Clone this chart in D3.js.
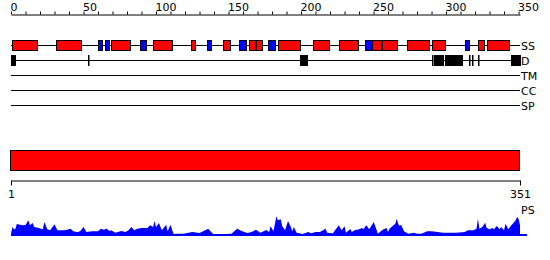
<!DOCTYPE html>
<html>
<head>
<meta charset="utf-8">
<script src="https://cdn.jsdelivr.net/npm/d3@7"></script>
<style>
  body { margin: 0; background: #fff; }
  svg { display: block; font-family: "DejaVu Sans", sans-serif; }
</style>
</head>
<body>
<svg id="chart"></svg>
<script>
const seqLength = 351
const topTicks = d3.range(0, 351, 10)
const rowNames = ['SS', 'D', 'TM', 'CC', 'SP']

// secondary structure: helix (red) and strand (blue), residue ranges
const helices = [[1, 18], [31, 48], [69, 82], [98, 111], [124, 127], [146, 151], [164, 168], [169, 173],
  [184, 199], [208, 219], [226, 239], [249, 255], [256, 266], [273, 288], [290, 299], [322, 326], [328, 343]]
const strands = [[60, 63], [65, 68], [89, 93], [135, 138], [157, 162], [177, 182], [244, 249], [313, 316]]

// disordered regions
const disorder = [[0, 3], [53, 53], [199, 204], [290, 290], [292, 298], [299, 311], [316, 316], [318, 318], [322, 322], [345, 351]]

// domain bar
const domains = [[1, 351]]
const bottomTicks = [1, 351]

// PS profile: residue, score
const psResidue = [0, 1, 2, 3, 4, 7, 8, 10, 12, 13, 15, 16, 19, 22, 23, 25, 27, 30, 32, 36, 38, 41, 43, 46, 48, 50, 52, 56, 60, 62,
  64, 66, 68, 69, 72, 76, 79, 81, 83, 85, 87, 90, 94, 96, 98, 99, 100, 102, 104, 107, 108, 110, 112, 113, 115, 119, 125, 130, 136, 138,
  140, 145, 149, 152, 156, 159, 163, 166, 169, 172, 176, 178, 179, 181, 183, 184, 186, 187, 189, 191, 193, 194, 195, 197, 201, 205, 207, 210, 213, 217,
  218, 222, 226, 228, 230, 231, 234, 235, 237, 240, 242, 243, 245, 247, 249, 250, 251, 253, 255, 257, 259, 260, 261, 263, 265, 266, 267, 268, 269, 271,
  274, 278, 280, 283, 287, 290, 294, 298, 303, 307, 313, 315, 319, 321, 322, 323, 325, 327, 328, 330, 332, 333, 335, 337, 338, 340, 341, 343, 345, 346,
  348, 349, 350, 351]
const psScore = [2, 9, 6.7, 7, 12, 11, 10.7, 11, 15.7, 10.7, 13, 9, 8, 6.7, 14, 6.7, 5.7, 11.7, 5.7, 5.7, 6, 7.3, 4.7, 3.7, 5.3, 9, 4, 4.7, 4.7, 7.3,
  6.3, 7.3, 5, 5.7, 3.3, 5, 4, 5.7, 9, 5.7, 7.3, 8, 8, 10.7, 9, 15, 9, 13, 5.7, 11.3, 4.7, 11.3, 2.3, 2, 2.3, 2.3, 4, 3, 7.3, 4,
  1.3, 1.3, 2, 2.3, 7.3, 5, 3, 4, 6.3, 3.3, 6, 4, 9.7, 4.7, 19.7, 15.7, 16.7, 10, 5.7, 15, 9, 4.7, 9, 3.3, 2, 4, 2.7, 4, 4, 7.3,
  3.3, 2.7, 10.7, 5.7, 9.7, 3.3, 7, 4, 5.7, 6.7, 8, 6.7, 10.7, 6.7, 11.3, 14, 10.7, 2.3, 4.7, 6.7, 8, 4, 7.3, 9.7, 12.3, 17.3, 12.3, 10, 11.3, 4.7,
  2.3, 3.3, 2.3, 2.3, 4.7, 4.7, 4, 3.3, 3.3, 3.3, 4, 5.7, 5.7, 7.3, 17.3, 7.3, 9, 13.3, 8, 6.7, 8, 6.7, 10, 6.7, 9, 5.7, 12.3, 6.7, 10.7, 12.3,
  15.7, 19, 17.3, 10.7]

const width = 550, height = 260

const svg = d3.select('#chart')
  .attr('width', width)
  .attr('height', height)

const x = d3.scaleLinear().domain([0, seqLength]).range([11, 520])
const xb = d3.scaleLinear().domain([1, seqLength]).range([11, 520])
const rowY = d3.scalePoint().domain(rowNames).range([45, 105])

// top ruler
const topAxis = svg.append('g')
  .attr('transform', 'translate(0,14.5)')
  .call(d3.axisTop(x)
    .tickValues(topTicks)
    .tickSize(3)
    .tickSizeOuter(0)
    .tickPadding(0)
    .tickFormat(d => d % 50 === 0 ? d : ''))
topAxis.selectAll('text')
  .attr('text-anchor', 'start')
  .attr('dx', -1)
  .attr('dy', -1)
  .style('font-size', '11px')
  .style('font-family', '"DejaVu Sans", sans-serif')
  .attr('fill', '#000')

// track lines
const rows = svg.append('g')
rows.selectAll('line')
  .data(rowNames)
  .enter().append('line')
  .attr('x1', x(0))
  .attr('x2', x(seqLength))
  .attr('y1', d => rowY(d) + 0.5)
  .attr('y2', d => rowY(d) + 0.5)
  .attr('stroke', '#000')
  .attr('stroke-width', 1)
rows.selectAll('text')
  .data(rowNames)
  .enter().append('text')
  .attr('x', x(seqLength) + 1)
  .attr('y', d => rowY(d) + 5)
  .style('font-size', '11px')
  .text(d => d)

function drawBoxes(data, row, fill) {
  svg.append('g')
    .selectAll('rect')
    .data(data)
    .enter().append('rect')
    .attr('x', d => Math.round(x(d[0])) + 0.5)
    .attr('y', rowY(row) - 4.5)
    .attr('width', d => Math.max(0.5, Math.round(x(d[1]) - x(d[0]))))
    .attr('height', 10)
    .attr('fill', fill)
    .attr('stroke', '#000')
    .attr('stroke-width', 1)
}
drawBoxes(helices, 'SS', '#ff0000')
drawBoxes(strands, 'SS', '#0000ff')
drawBoxes(disorder, 'D', '#000')

// domain bar
svg.append('g')
  .selectAll('rect')
  .data(domains)
  .enter().append('rect')
  .attr('x', d => xb(d[0]) - 0.5)
  .attr('y', 150.5)
  .attr('width', d => xb(d[1]) - xb(d[0]))
  .attr('height', 20)
  .attr('fill', '#ff0000')
  .attr('stroke', '#000')
  .attr('stroke-width', 1)

// bottom ruler
const bottomAxis = svg.append('g')
  .attr('transform', 'translate(0,180.5)')
  .call(d3.axisBottom(xb)
    .tickValues(bottomTicks)
    .tickSize(5)
    .tickSizeOuter(0)
    .tickPadding(5))
bottomAxis.selectAll('text')
  .style('font-size', '11px')
  .style('font-family', '"DejaVu Sans", sans-serif')
  .attr('fill', '#000')

// PS profile
const psData = psResidue.map((r, i) => ({ r: r, v: psScore[i] }))
const y = d3.scaleLinear().domain([0, 20]).range([236, 216])

svg.append('line')
  .attr('x1', x(0))
  .attr('x2', x(seqLength) + 7)
  .attr('y1', 235)
  .attr('y2', 235)
  .attr('stroke', '#0000ff')
  .attr('stroke-width', 2)

svg.append('path')
  .datum(psData)
  .attr('fill', '#0000ff')
  .attr('d', d3.area()
    .x(d => x(d.r))
    .y0(y(0))
    .y1(d => y(d.v)))

svg.append('text')
  .attr('x', x(seqLength) + 1)
  .attr('y', 214)
  .style('font-size', '11px')
  .text('PS')
</script>
</body>
</html>
